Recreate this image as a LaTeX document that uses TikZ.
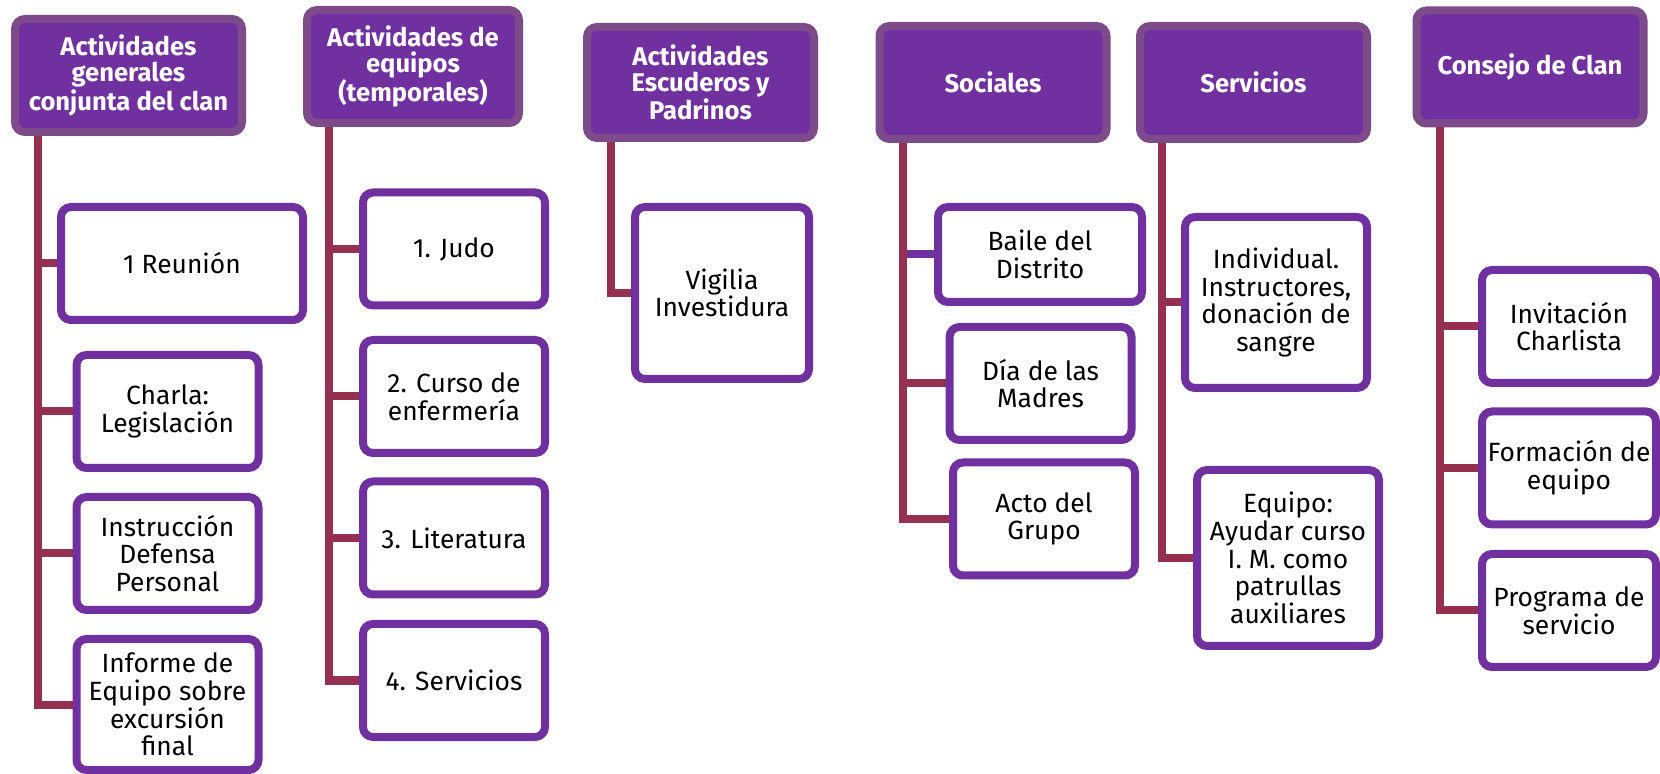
\documentclass[tikz,border=0pt]{standalone}
\usepackage{fontspec}
\setmainfont{Fira Sans}
\definecolor{hdfill}{HTML}{7030A0}
\definecolor{hdline}{HTML}{7E4B8A}
\definecolor{boxline}{HTML}{7030A0}
\definecolor{linkred}{HTML}{953050}
\begin{document}
\begin{tikzpicture}[x=0.5pt,y=-0.5pt,inner sep=0pt,
head/.style={draw=hdline,fill=hdfill,line width=4pt,rounded corners=5pt,minimum width=113.5pt,minimum height=56.5pt,align=center,text=white,font=\fontsize{12.8}{12.9}\selectfont\bfseries},
item/.style={draw=boxline,fill=white,line width=4pt,rounded corners=5pt,minimum width=91pt,minimum height=56.5pt,align=center,font=\fontsize{13.2}{13.8}\selectfont},
link/.style={draw=linkred,line width=4pt}]
\useasboundingbox (0,0) rectangle (1660,774);

\draw (128.5,75.5) node[head] (gen) {Actividades\\generales\\conjunta del clan};
\draw (413,66.5) node[head,minimum width=106pt] (equ) {Actividades de\\equipos\\(temporales)};
\draw (700.5,82.5) node[head,minimum height=55.5pt] (esc) {Actividades\\Escuderos y\\Padrinos};
\draw (993,82.5) node[head] (soc) {Sociales};
\draw (1253.5,82.5) node[head] (ser) {Servicios};
\draw (1530,67) node[head] (con) {Consejo de Clan};

\draw (182,263.5) node[item,minimum width=121pt] (reun) {1 Reunión};
\draw (167.5,411.5) node[item] (charla) {Charla:\\Legislación};
\draw (167.5,553.5) node[item] (defensa) {Instrucción\\Defensa\\Personal};
\draw (167.5,704.5) node[item,minimum height=65.5pt] (informe) {Informe de\\Equipo sobre\\excursión\\final};

\draw (454,249) node[item] (judo) {1. Judo};
\draw (454,396.5) node[item] (enfer) {2. Curso de\\enfermería};
\draw (454,538) node[item] (lit) {3. Literatura};
\draw (454,680.5) node[item] (servs) {4. Servicios};

\draw (722,293) node[item,minimum width=87pt,minimum height=86pt] (vigilia) {Vigilia\\Investidura};

\draw (1040,254.5) node[item,minimum width=102pt,minimum height=47.5pt] (baile) {Baile del\\Distrito};
\draw (1040.5,383.5) node[item] (madres) {Día de las\\Madres};
\draw (1044,519) node[item] (acto) {Acto del\\Grupo};

\draw (1276,302.5) node[item,minimum height=85.5pt] (indiv) {Individual.\\Instructores,\\donación de\\sangre};
\draw (1288,558) node[item,minimum height=88pt] (equipo) {Equipo:\\Ayudar curso\\I. M. como\\patrullas\\auxiliares};

\draw (1569,326.5) node[item,minimum width=87pt] (invit) {Invitación\\Charlista};
\draw (1569,468) node[item,minimum width=87pt] (forma) {Formación de\\equipo};
\draw (1569,610.5) node[item,minimum width=87pt] (progr) {Programa de\\servicio};

\draw[link] (gen.south west) ++(27,0) |- (reun.west);
\draw[link] (gen.south west) ++(27,0) |- (charla.west);
\draw[link] (gen.south west) ++(27,0) |- (defensa.west);
\draw[link] (gen.south west) ++(27,0) |- (informe.west);

\draw[link] (equ.south west) ++(26,0) |- (judo.west);
\draw[link] (equ.south west) ++(26,0) |- (enfer.west);
\draw[link] (equ.south west) ++(26,0) |- (lit.west);
\draw[link] (equ.south west) ++(26,0) |- (servs.west);

\draw[link] (esc.south west) ++(28,0) |- (vigilia.west);

\draw[link,draw=boxline] (soc.south west) ++(27,0) |- (baile.west);
\draw[link] (soc.south west) ++(27,0) |- (madres.west);
\draw[link] (soc.south west) ++(27,0) |- (acto.west);

\draw[link] (ser.south west) ++(26,0) |- (indiv.west);
\draw[link] (ser.south west) ++(26,0) |- (equipo.west);

\draw[link] (con.south west) ++(27,0) |- (invit.west);
\draw[link] (con.south west) ++(27,0) |- (forma.west);
\draw[link] (con.south west) ++(27,0) |- (progr.west);
\end{tikzpicture}
\end{document}
